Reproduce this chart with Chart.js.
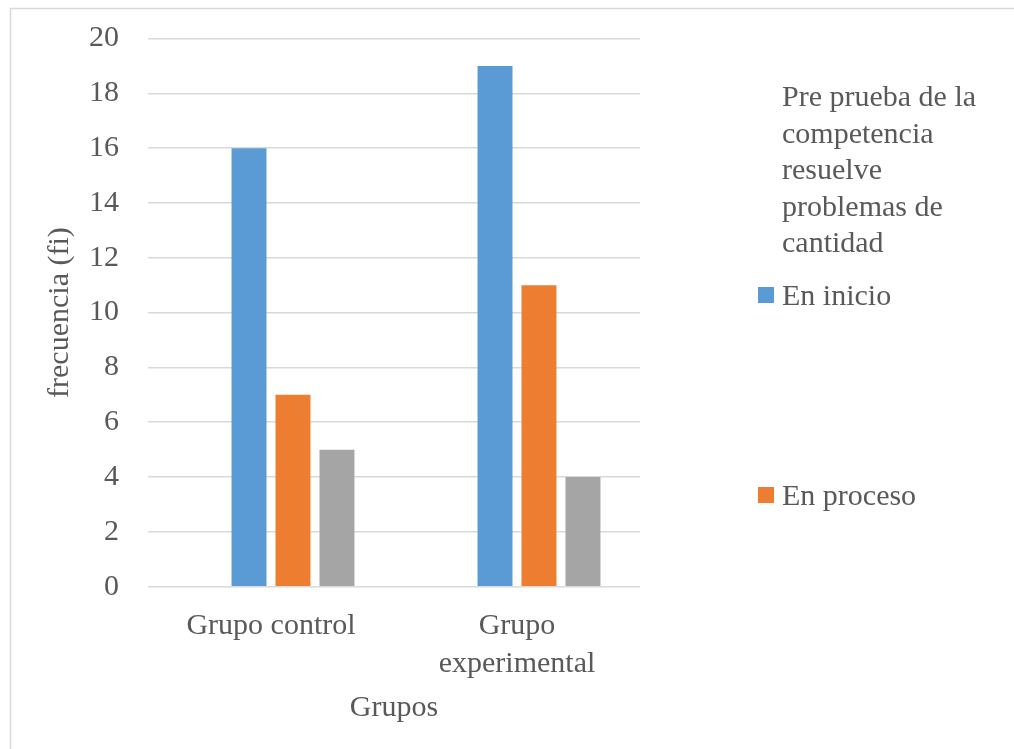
<!DOCTYPE html>
<html lang="es">
<head>
<meta charset="utf-8">
<title>Pre prueba de la competencia resuelve problemas de cantidad</title>
<script src="https://cdn.jsdelivr.net/npm/chart.js@4/dist/chart.umd.min.js"></script>
<style>
  html, body { margin: 0; padding: 0; background: #ffffff; }
  #wrap { position: relative; width: 1014px; height: 749px; }
  canvas { display: block; }
</style>
</head>
<body>
<div id="wrap"><canvas id="chart" width="1014" height="749"></canvas></div>
<script>
// Categories on the horizontal axis (second label wraps onto two lines)
const categories = [["Grupo control"], ["Grupo", "experimental"]];

// Series names
const seriesNames = [
  "Pre prueba de la competencia resuelve problemas de cantidad",
  "En inicio",
  "En proceso",
  "Logrado"
];

// Series values per group (the first series carries no values)
const tituloValues = [null, null];
const enInicioValues = [16, 19];
const enProcesoValues = [7, 11];
const logradoValues = [5, 4];

// Vertical axis ticks
const yTicks = [0, 2, 4, 6, 8, 10, 12, 14, 16, 18, 20];

const FONT = "'Liberation Serif', 'Times New Roman', serif";
const TEXT = "#595959";
const GRID = "#d9d9d9";

// Frame around the chart (left and top edges)
const framePlugin = {
  id: "frame",
  beforeDraw(chart) {
    const ctx = chart.ctx;
    ctx.save();
    ctx.strokeStyle = GRID;
    ctx.lineWidth = 1.5;
    ctx.beginPath();
    ctx.moveTo(10.5, chart.height);
    ctx.lineTo(10.5, 8.5);
    ctx.lineTo(chart.width, 8.5);
    ctx.stroke();
    ctx.restore();
  }
};

// Vertical legend on the right, with wrapped entry names
const sideLegendPlugin = {
  id: "sideLegend",
  afterDraw(chart, args, opts) {
    const ctx = chart.ctx;
    const sets = chart.data.datasets.slice(0, opts.maxEntries);
    ctx.save();
    ctx.font = opts.fontSize + "px " + FONT;
    ctx.fillStyle = TEXT;
    ctx.textAlign = "left";
    ctx.textBaseline = "alphabetic";
    sets.forEach((ds, i) => {
      const base = opts.baselines[i];
      // wrap the name into lines no wider than maxWidth
      const words = ds.label.split(" ");
      const lines = [];
      let cur = "";
      words.forEach(w => {
        const test = cur ? cur + " " + w : w;
        if (cur && ctx.measureText(test).width > opts.maxWidth) {
          lines.push(cur);
          cur = w;
        } else {
          cur = test;
        }
      });
      if (cur) lines.push(cur);
      lines.forEach((ln, k) => {
        ctx.fillStyle = TEXT;
        ctx.fillText(ln, opts.textX, base + k * opts.lineGap);
      });
      if (ds.backgroundColor && ds.backgroundColor !== "transparent") {
        ctx.fillStyle = ds.backgroundColor;
        ctx.fillRect(opts.boxX, base - 18, opts.boxSize, opts.boxSize);
      }
    });
    ctx.restore();
  }
};

new Chart(document.getElementById("chart"), {
  type: "bar",
  data: {
    labels: categories,
    datasets: [
      { label: seriesNames[0], data: tituloValues, backgroundColor: "transparent" },
      { label: seriesNames[1], data: enInicioValues, backgroundColor: "#5b9bd5" },
      { label: seriesNames[2], data: enProcesoValues, backgroundColor: "#ed7d31" },
      { label: seriesNames[3], data: logradoValues, backgroundColor: "#a5a5a5" }
    ]
  },
  options: {
    responsive: false,
    animation: false,
    devicePixelRatio: 1,
    layout: { padding: { top: 38.5, right: 374, bottom: 0, left: 0 } },
    datasets: {
      bar: { categoryPercentage: 0.715, barPercentage: 0.795, borderWidth: 0 }
    },
    plugins: {
      legend: { display: false },
      tooltip: { enabled: false },
      sideLegend: {
        maxEntries: 3,
        fontSize: 30,
        textX: 782,
        boxX: 758,
        boxSize: 16,
        maxWidth: 215,
        lineGap: 36.6,
        baselines: [106, 305, 505]
      }
    },
    scales: {
      x: {
        grid: { display: false, drawTicks: false },
        border: { display: false },
        ticks: {
          color: TEXT,
          padding: 21,
          maxRotation: 0,
          autoSkip: false,
          font: { family: FONT, size: 30, lineHeight: 1.25 }
        },
        title: {
          display: true,
          text: "Grupos",
          color: TEXT,
          font: { family: FONT, size: 30, lineHeight: 1.2 },
          padding: { top: 0, bottom: 23 }
        },
        afterFit(scale) {
          scale.height = 162.3;
          scale.paddingLeft = 0;
          scale.paddingRight = 0;
        }
      },
      y: {
        min: 0,
        max: 20,
        afterBuildTicks(scale) { scale.ticks = yTicks.map(v => ({ value: v })); },
        grid: { color: GRID, lineWidth: 1.5, drawTicks: false },
        border: { display: false },
        ticks: {
          color: TEXT,
          padding: 29,
          font: { family: FONT, size: 30 }
        },
        title: {
          display: true,
          text: "frecuencia (fi)",
          color: TEXT,
          font: { family: FONT, size: 30, lineHeight: 1.2 },
          padding: { top: 42, bottom: 0 }
        },
        afterFit(scale) {
          scale.width = 148;
          scale.paddingTop = 0;
          scale.paddingBottom = 0;
        }
      }
    }
  },
  plugins: [framePlugin, sideLegendPlugin]
});
</script>
</body>
</html>
